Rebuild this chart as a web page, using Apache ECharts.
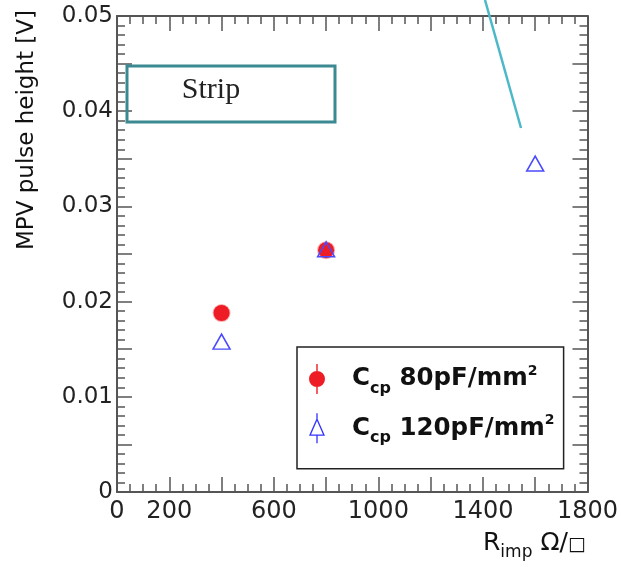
<!DOCTYPE html>
<html><head><meta charset="utf-8">
<script src="https://cdn.jsdelivr.net/npm/echarts@6/dist/echarts.min.js"></script>
<style>html,body{margin:0;padding:0;background:#fff}#c{width:621px;height:567px}</style>
</head><body><div id="c"></div>
<script>
// ---- data ----
const rImp80 = [400, 800];
const mpv80 = [0.0188, 0.0254];
const rImp120 = [400, 800, 1600];
const mpv120 = [0.0158, 0.0255, 0.0345];
const xTickLabels = [0, 200, 600, 1000, 1400, 1800];
const yTickLabels = [0, 0.01, 0.02, 0.03, 0.04, 0.05];
const seriesNames = ['Ccp 80pF/mm2', 'Ccp 120pF/mm2'];
const legendValues = ['80', '120'];
const annotationText = 'Strip';

const chart = echarts.init(document.getElementById('c'), null, {renderer: 'canvas'});
const axisColor = '#555';
const sans = 'DejaVu Sans';
const near = (v, arr) => arr.some(a => Math.abs(a - v) < 1e-9);
const fmtY = v => v === 0 ? '0' : String(+v.toFixed(2));

function xAxisDef(pos, showLabel) {
  return {
    type: 'value', position: pos, min: 0, max: 1800, interval: 200,
    axisLine: {show: true, onZero: false, lineStyle: {color: axisColor, width: 2}},
    axisTick: {show: true, inside: true, length: 15, lineStyle: {color: axisColor, width: 1.5}},
    minorTick: {show: true, splitNumber: 4, length: 8, lineStyle: {color: axisColor, width: 1.5}},
    splitLine: {show: false}, minorSplitLine: {show: false},
    axisLabel: {show: showLabel, interval: 0, margin: 8, fontFamily: sans, fontSize: 24, color: '#222',
      showMinLabel: true, showMaxLabel: true,
      formatter: v => near(v, xTickLabels) ? String(v) : ''}
  };
}
function yAxisDef(pos, showLabel) {
  return {
    type: 'value', position: pos, min: 0, max: 0.05, interval: 0.005,
    axisLine: {show: true, onZero: false, lineStyle: {color: axisColor, width: 2}},
    axisTick: {show: true, inside: true, length: 15, lineStyle: {color: axisColor, width: 1.5}},
    minorTick: {show: true, splitNumber: 5, length: 8, lineStyle: {color: axisColor, width: 1.5}},
    splitLine: {show: false}, minorSplitLine: {show: false},
    axisLabel: {show: showLabel, margin: 4, fontFamily: sans, fontSize: 23, color: '#222',
      showMinLabel: true, showMaxLabel: true,
      formatter: v => near(v, yTickLabels) ? fmtY(v) : ''}
  };
}

const redIcon = 'path://M7.3,0h1.4v30h-1.4z M16,15 A8,8 0 1 1 0,15 A8,8 0 1 1 16,15 Z';
const triIcon = 'path://M8,0 L8,6 M8,6 L15,22 L1,22 Z M8,22 L8,30';

const option = {
  animation: false,
  backgroundColor: '#fff',
  grid: {left: 117, right: 33, top: 16, bottom: 75, show: false},
  xAxis: [xAxisDef('bottom', true), xAxisDef('top', false)],
  yAxis: [yAxisDef('left', true), yAxisDef('right', false)],
  legend: {
    orient: 'vertical', left: 297, top: 347, padding: [17, 9, 23, 12],
    itemGap: 16, itemWidth: 16, itemHeight: 30,
    borderColor: '#222', borderWidth: 1.5, backgroundColor: '#fff',
    selectedMode: false,
    data: [
      {name: seriesNames[0], icon: redIcon, itemStyle: {color: '#ee1c24', borderWidth: 0}},
      {name: seriesNames[1], icon: triIcon, itemStyle: {color: 'rgba(0,0,0,0)', borderColor: '#3333ff', borderWidth: 1.3}}
    ],
    formatter: name => {
      const i = seriesNames.indexOf(name);
      return '{m|C}{sub|cp}{m| ' + legendValues[i] + 'pF/mm}{sup|2}';
    },
    textStyle: {
      padding: [0, 0, 0, 22],
      rich: {
        m: {fontFamily: sans, fontWeight: 'bold', fontSize: 24.5, lineHeight: 30, color: '#111'},
        sub: {fontFamily: sans, fontWeight: 'bold', fontSize: 16, verticalAlign: 'top', padding: [19, 0, 0, 0], color: '#111'},
        sup: {fontFamily: sans, fontWeight: 'bold', fontSize: 14, verticalAlign: 'top', padding: [3, 0, 0, 0], color: '#111'}
      }
    }
  },
  series: [
    {
      name: seriesNames[0], type: 'scatter', symbol: 'circle', symbolSize: 16,
      itemStyle: {color: '#ee1c24', borderColor: 'rgba(238,28,36,0.35)', borderWidth: 2, opacity: 1},
      data: rImp80.map((x, i) => [x, mpv80[i]]), z: 3
    },
    {
      name: seriesNames[1], type: 'scatter', symbol: 'triangle', symbolSize: [17, 15],
      itemStyle: {color: 'rgba(0,0,0,0)', borderColor: '#4a4aff', borderWidth: 1.5, opacity: 1},
      data: rImp120.map((x, i) => [x, mpv120[i]]), z: 4
    }
  ],
  graphic: [
    {type: 'rect', shape: {x: 127, y: 66, width: 208, height: 56},
      style: {fill: 'rgba(0,0,0,0)', stroke: '#3b8a92', lineWidth: 3}, z: 10},
    {type: 'text', x: 211, y: 90, style: {text: annotationText, font: '30px "Liberation Serif"', fill: '#222',
      textAlign: 'center', textVerticalAlign: 'middle'}, z: 10},
    {type: 'line', shape: {x1: 485, y1: 0, x2: 521, y2: 128},
      style: {stroke: '#4cb8c8', lineWidth: 2.5}, z: 10},
    {type: 'text', x: 27, y: 130, rotation: Math.PI / 2,
      style: {text: 'MPV pulse height [V]', font: '23px "DejaVu Sans"', fill: '#111',
        textAlign: 'center', textVerticalAlign: 'middle'}, z: 10},
    {type: 'text', x: 483, y: 561, z: 10,
      style: {text: '{a|R}{s|imp}{a| Ω/}{b|□}', fill: '#111', textVerticalAlign: 'bottom',
        rich: {
          a: {fontFamily: sans, fontSize: 25, color: '#111', lineHeight: 30},
          s: {fontFamily: sans, fontSize: 17, color: '#111', verticalAlign: 'top', padding: [19, 0, 0, 0]},
          b: {fontFamily: sans, fontSize: 19, fontWeight: 'bold', color: '#000', lineHeight: 30, padding: [4, 0, 0, 0]}
        }}}
  ]
};
chart.setOption(option);
</script>
</body></html>
